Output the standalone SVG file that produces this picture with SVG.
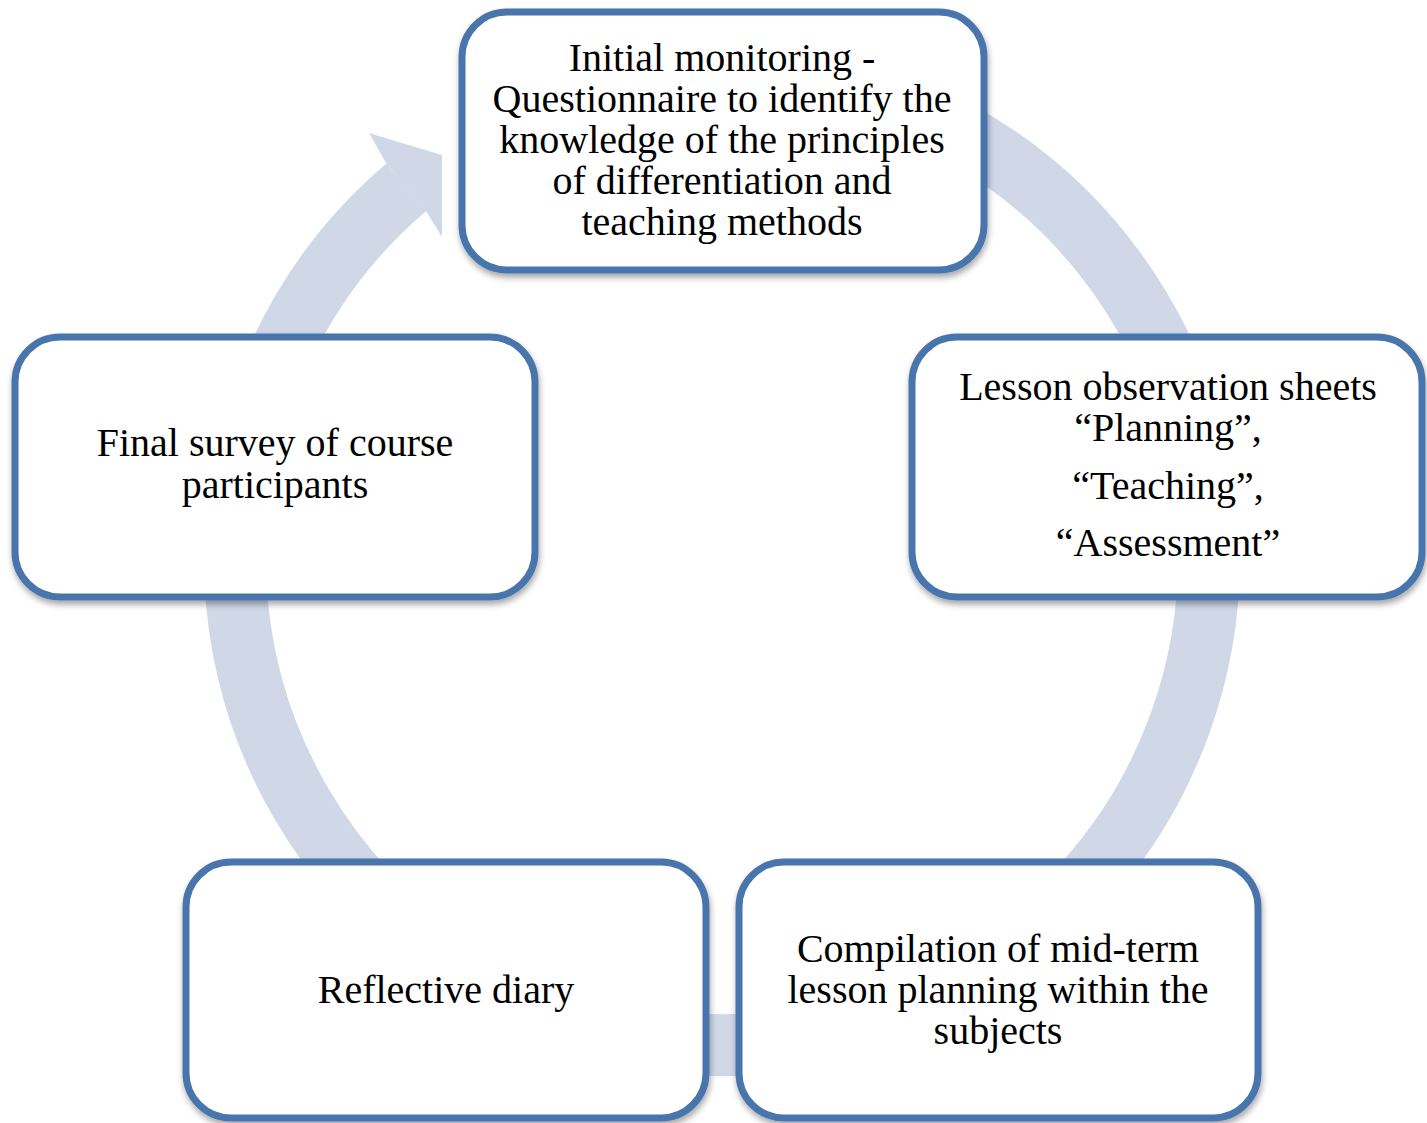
<svg xmlns="http://www.w3.org/2000/svg" width="1427" height="1123" viewBox="0 0 1427 1123">
<style>
.box{fill:#ffffff;stroke:#4a75ad;stroke-width:7;filter:url(#sh)}
.t{font-family:"Liberation Serif","Times New Roman",serif;font-size:40px;fill:#000;text-anchor:middle}
</style>
<defs>
<filter id="sh" x="-10%" y="-10%" width="120%" height="125%">
<feDropShadow dx="1" dy="4" stdDeviation="3" flood-color="#000" flood-opacity="0.35"/>
</filter>
</defs>
<g id="connectors">
<path d="M764.4,72.9 A487,487 0 1 1 406.4,187.1" fill="none" stroke="#d0d8e8" stroke-width="62"/>
<polygon points="386,163 369,133 442,155 442,237 426,211" fill="#d0d8e8"/>
</g>
<g id="n1">
<rect class="box" x="462" y="12" width="522" height="258" rx="45"/>
<text class="t" x="722" y="71">Initial monitoring -</text>
<text class="t" x="722" y="112">Questionnaire to identify the</text>
<text class="t" x="722" y="153">knowledge of the principles</text>
<text class="t" x="722" y="194">of differentiation and</text>
<text class="t" x="722" y="235">teaching methods</text>
</g>
<g id="n2">
<rect class="box" x="912" y="337" width="510" height="260" rx="45"/>
<text class="t" x="1168" y="400">Lesson observation sheets</text>
<text class="t" x="1168" y="441">“Planning”,</text>
<text class="t" x="1168" y="499">“Teaching”,</text>
<text class="t" x="1168" y="556">“Assessment”</text>
</g>
<g id="n3">
<rect class="box" x="739" y="862" width="519" height="256" rx="45"/>
<text class="t" x="998" y="962">Compilation of mid-term</text>
<text class="t" x="998" y="1003">lesson planning within the</text>
<text class="t" x="998" y="1044">subjects</text>
</g>
<g id="n4">
<rect class="box" x="186" y="862" width="520" height="256" rx="45"/>
<text class="t" x="446" y="1003">Reflective diary</text>
</g>
<g id="n5">
<rect class="box" x="15" y="337" width="520" height="260" rx="45"/>
<text class="t" x="275" y="456">Final survey of course</text>
<text class="t" x="275" y="498">participants</text>
</g>
</svg>
